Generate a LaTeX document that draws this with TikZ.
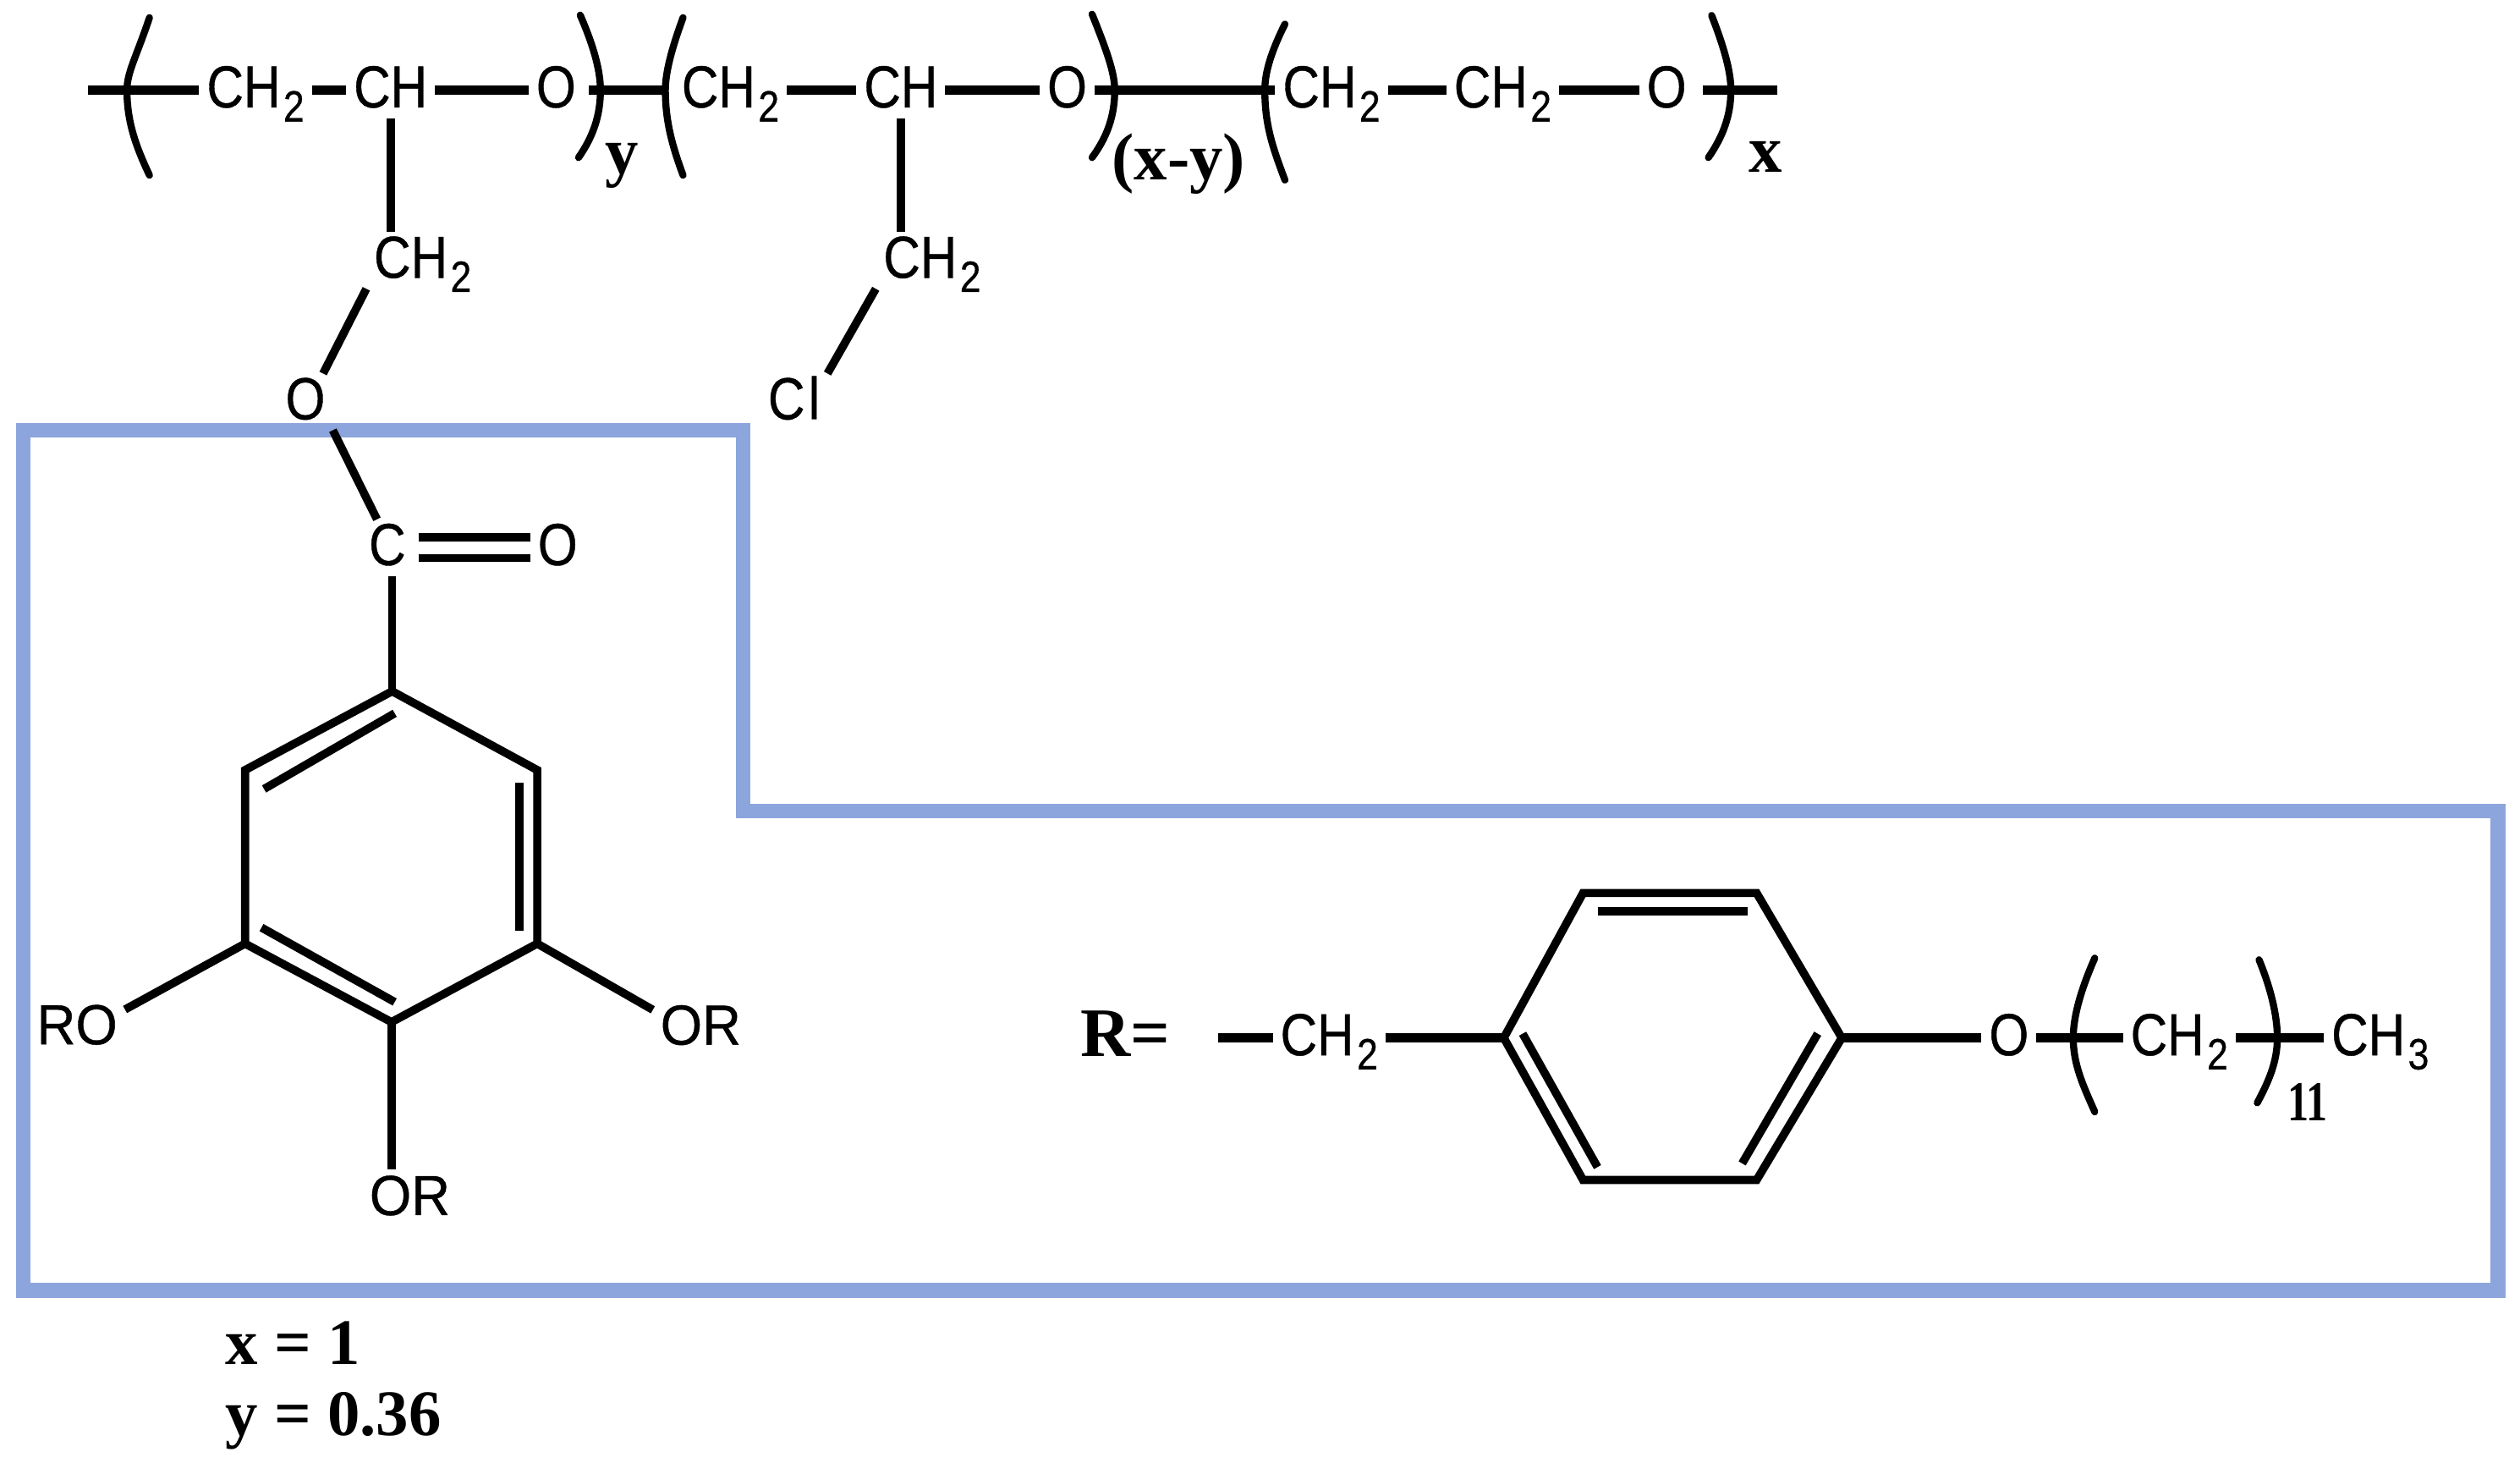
\documentclass[tikz,border=0pt]{standalone}
\usepackage{fontspec}
\usepackage{graphicx}
\setmainfont{Liberation Sans}[RawFeature={embolden=0.6}]
\newfontfamily\serifbold{Liberation Serif}
\definecolor{boxblue}{HTML}{8CA5DC}
\newcommand{\lab}[1]{\scalebox{.86}[1]{\fontsize{21}{21}\selectfont #1}}
\newcommand{\labw}[1]{\scalebox{.95}[1]{\fontsize{20}{20}\selectfont #1}}
\newcommand{\sbs}[1]{\kern1.2pt\raisebox{-5pt}{\fontsize{15.5}{15.5}\selectfont #1}}
\newcommand{\bft}[2]{{\serifbold\bfseries\fontsize{#1}{#1}\selectfont #2}}
\tikzset{
  atom/.style={inner xsep=2.5pt,inner ysep=1pt,text height=15pt,text depth=2.7pt,text=black},
  bond/.style={draw=black,line width=2.9pt,line cap=butt,line join=miter},
  chain/.style={draw=black,line width=3.3pt,line cap=butt},
  paren/.style={draw=black,line width=2.5pt,line cap=round},
  bfnote/.style={inner sep=0pt,anchor=base west,text=black},
  region/.style={draw=boxblue,line width=5.3pt,line join=miter}
}
\begin{document}
\begin{tikzpicture}[x=0.02cm,y=-0.02cm]
\useasboundingbox (0,0) rectangle (1568,909.55);
% blue region
\draw[region] (14.5,267.7) -- (462.4,267.7) -- (462.4,504.5) -- (1554.4,504.5) -- (1554.4,802.8) -- (14.5,802.8) -- cycle;
% main chain
\coordinate (endL) at (54.5,56);
\coordinate (endR) at (1106,56);
\node[atom] (chA) at (159,56) {\lab{CH\sbs{2}}};
\node[atom] (chB) at (243,56) {\lab{CH}};
\node[atom] (oA) at (346,56) {\lab{O}};
\node[atom] (chC) at (454.5,56) {\lab{CH\sbs{2}}};
\node[atom] (chD) at (560.5,56) {\lab{CH}};
\node[atom] (oB) at (664,56) {\lab{O}};
\node[atom] (chE) at (828.5,56) {\lab{CH\sbs{2}}};
\node[atom] (chF) at (935,56) {\lab{CH\sbs{2}}};
\node[atom] (oC) at (1037,56) {\lab{O}};
\draw[chain] (endL) -- (chA);
\draw[chain] (chA) -- (chB);
\draw[chain] (chB) -- (oA);
\draw[chain,shorten <=2pt,shorten >=2pt] (oA) -- (chC);
\draw[chain] (chC) -- (chD);
\draw[chain] (chD) -- (oB);
\draw[chain] (oB) -- (chE);
\draw[chain] (chE) -- (chF);
\draw[chain] (chF) -- (oC);
\draw[chain,shorten <=3pt] (oC) -- (endR);
% brackets
\draw[paren] (93,11) .. controls (85,35) and (79,45) .. (79,56) .. controls (79,75) and (84,90) .. (93,109);
\draw[paren] (361,9.4) .. controls (370,30) and (373.6,45) .. (373.6,56) .. controls (373.6,72) and (369,85) .. (360,98);
\draw[paren] (425,11) .. controls (418,30) and (414,45) .. (414,56) .. controls (414,75) and (418,90) .. (425,109);
\draw[paren] (679.5,8.8) .. controls (688,30) and (693.6,45) .. (693.6,56) .. controls (693.6,72) and (689,85) .. (679.5,98);
\draw[paren] (799.5,15) .. controls (791,32) and (787,45) .. (787,56) .. controls (787,78) and (792,92) .. (799.5,112);
\draw[paren] (1065,9.6) .. controls (1073,30) and (1077,45) .. (1077,56) .. controls (1077,72) and (1072,85) .. (1063,98);
% repeat-unit labels
\node[bfnote] (lbY) at (376,108) {\bft{23.6}{y}};
\node[bfnote] (lbXY) at (691.5,112) {\bft{23.6}{(x-y)}};
\node[bfnote] (lbX) at (1088,107) {\bft{23.6}{x}};
% branches
\node[atom] (chG) at (263,162) {\lab{CH\sbs{2}}};
\node[atom] (chH) at (580,162) {\lab{CH\sbs{2}}};
\node[atom] (oD) at (190,250) {\lab{O}};
\node[atom] (cl) at (494,250) {\lab{C\kern1.5pt l}};
\node[atom] (cN) at (241,340.7) {\lab{C}};
\node[atom] (oE) at (347,340.7) {\lab{O}};
\draw[bond] (chB.south) -- (chB.south |- chG.north);
\draw[bond] (chD.south) -- (chD.south |- chH.north);
\draw[bond] (chG.south west) -- (oD.58);
\draw[bond] (chH.south west) -- (cl.north east);
\draw[bond] (oD.south east) -- (cN.110);
\draw[bond,shorten <=2pt] ([yshift=3.7pt]cN.east) -- ([yshift=3.7pt]oE.west);
\draw[bond,shorten <=2pt] ([yshift=-3.7pt]cN.east) -- ([yshift=-3.7pt]oE.west);
% gallate ring
\coordinate (r1) at (244,430);
\coordinate (r2) at (334.3,479);
\coordinate (r3) at (334.3,587);
\coordinate (r4) at (243.6,635.8);
\coordinate (r5) at (152.5,587);
\coordinate (r6) at (152.5,479);
\draw[bond] (r1) -- (r2) -- (r3) -- (r4) -- (r5) -- (r6) -- cycle;
\coordinate (i1a) at (164.3,490.8);
\coordinate (i1b) at (245.6,443.7);
\coordinate (i2a) at (323,486.8);
\coordinate (i2b) at (323,579);
\coordinate (i3a) at (162.7,577);
\coordinate (i3b) at (245.6,623.3);
\draw[bond] (i1a) -- (i1b);
\draw[bond] (i2a) -- (i2b);
\draw[bond] (i3a) -- (i3b);
\draw[bond] (r1 |- cN.south) -- (r1);
\node[atom] (ro1) at (48,638.8) {\labw{RO}};
\node[atom] (or1) at (436,639) {\labw{OR}};
\node[atom] (or2) at (255,745) {\labw{OR}};
\draw[bond] (r5) -- (ro1.20);
\draw[bond] (r3) -- (or1.160);
\draw[bond] (r4) -- (r4 |- or2.north);
% R group
\node[bfnote] (rEq) at (672,657) {\bft{24.6}{R=}};
\coordinate (rfree) at (757.7,645.6);
\node[atom] (chR) at (827,645.6) {\lab{CH\sbs{2}}};
\node[atom] (oR) at (1250,645.6) {\lab{O}};
\node[atom] (chS) at (1356,645.6) {\lab{CH\sbs{2}}};
\node[atom] (chT) at (1481,645.6) {\lab{CH\sbs{3}}};
\coordinate (s1) at (985,555.5);
\coordinate (s2) at (1093,555.5);
\coordinate (s3) at (1146,645.6);
\coordinate (s4) at (1093,734);
\coordinate (s5) at (985,734);
\coordinate (s6) at (935.7,645.6);
\draw[bond] (s1) -- (s2) -- (s3) -- (s4) -- (s5) -- (s6) -- cycle;
\coordinate (j1a) at (994,566.8);
\coordinate (j1b) at (1087.5,566.8);
\coordinate (j2a) at (947.4,643);
\coordinate (j2b) at (994,726);
\coordinate (j3a) at (1131,643);
\coordinate (j3b) at (1084,723.7);
\draw[bond] (j1a) -- (j1b);
\draw[bond] (j2a) -- (j2b);
\draw[bond] (j3a) -- (j3b);
\draw[chain] (rfree) -- (chR);
\draw[chain] (chR) -- (s6);
\draw[chain] (s3) -- (oR);
\draw[chain] (oR) -- (chS);
\draw[chain] (chS) -- (chT);
\draw[paren] (1303.4,596) .. controls (1295,615) and (1290,632) .. (1290,645.6) .. controls (1290,662) and (1296,675) .. (1303.4,691.6);
\draw[paren] (1405.6,597) .. controls (1413,615) and (1417,632) .. (1417,645.6) .. controls (1417,660) and (1412,672) .. (1404.5,686);
\node[bfnote] (lb11) at (1423,697) {\scalebox{.75}[1]{\bft{20}{11}}};
% values
\node[bfnote] (valX) at (140,848.5) {\bft{23}{x = 1}};
\node[bfnote] (valY) at (140,892.8) {\bft{23}{y = 0.36}};
\end{tikzpicture}
\end{document}
